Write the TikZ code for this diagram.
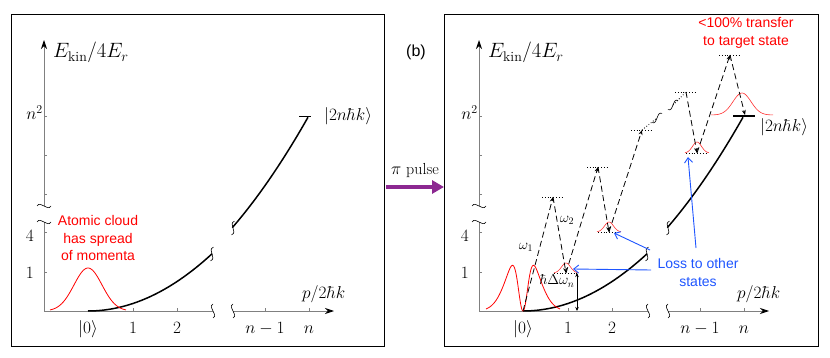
\documentclass[tikz,border=0pt]{standalone}
\usepackage{fontspec}
\newfontfamily\arial{Liberation Sans}
\usetikzlibrary{arrows.meta}
\definecolor{axisgray}{gray}{0.5}
\definecolor{lossblue}{RGB}{30,85,255}
\definecolor{pulsepurple}{RGB}{140,40,145}
\definecolor{cloudred}{RGB}{255,0,0}
\tikzset{
  frame/.style={draw=black, line width=1pt},
  axisline/.style={draw=axisgray, line width=0.9pt},
  axistip/.style={-{Stealth[color=black,length=9pt,width=6pt]}},
  tickmark/.style={draw=axisgray, line width=0.6pt},
  brk/.style={draw=black, line width=0.6pt},
  dispcurve/.style={draw=black, line width=1.5pt},
  gauss/.style={draw=cloudred, line width=0.8pt},
  smallgauss/.style={draw=cloudred!80, line width=0.6pt},
  mathlab/.style={font=\fontsize{18}{21}\selectfont, inner sep=0pt},
  axlab/.style={font=\fontsize{20}{24}\selectfont, inner sep=0pt},
  smallmath/.style={font=\fontsize{14}{17}\selectfont, inner sep=0pt},
  redtext/.style={text=cloudred, font=\arial\fontsize{14}{17.5}\selectfont, align=center, inner sep=0pt},
  bluetext/.style={text=lossblue, font=\arial\fontsize{14}{18}\selectfont, align=center, inner sep=0pt},
  transition/.style={draw=black, line width=0.8pt, dash pattern=on 6pt off 3.5pt, -{Stealth[length=5pt,width=4pt]}},
  chain/.style={draw=black, line width=0.8pt, dotted},
  vlevel/.style={draw=black, line width=0.8pt, dotted},
  lossarrow/.style={draw=lossblue, line width=0.9pt, -{Straight Barb[length=5pt,width=8pt]}},
  vbrk/.pic={\draw[brk] (0,-7) .. controls (-6,-3) and (6,3) .. (0,7);},
  hbrk/.pic={\draw[brk] (-7,0) .. controls (-3,-6) and (3,6) .. (7,0);},
}
\newcommand{\basepanel}[1]{%
  \draw[axisline] (44,311) -- (44,222);
  \draw[axisline,axistip] (44,206) -- (44,40);
  \draw[axisline] (44,311) -- (213,311);
  \draw[axisline,axistip] (233,311) -- (334,311);
  \pic at (44,222) {hbrk};
  \pic at (44,206) {hbrk};
  \pic at (213,311) {vbrk};
  \pic at (233,311) {vbrk};
  \foreach \ty in {116,155,194,232,272} \draw[tickmark] (44,\ty) -- (47,\ty);
  \foreach \tx in {133,177,265,309} \draw[tickmark] (\tx,311) -- (\tx,308);
  \node[axlab, anchor=base west] (#1ylab) at (53,58) {$E_{\mathrm{kin}}/4E_r$};
  \node[mathlab, anchor=base west] (#1xlab) at (302,298) {$p/2\hbar k$};
  \node[mathlab, anchor=base east] (#1ynsq) at (43,120) {$n^2$};
  \node[mathlab, anchor=base east] (#1yfour) at (34,241) {$4$};
  \node[mathlab, anchor=base east] (#1yone) at (34,278) {$1$};
  \node[mathlab, anchor=base] (#1xzero) at (88,333) {$|0\rangle$};
  \node[mathlab, anchor=base] (#1xone) at (133,333) {$1$};
  \node[mathlab, anchor=base] (#1xtwo) at (177,333) {$2$};
  \node[mathlab, anchor=base] (#1xnm) at (265,333) {$n-1$};
  \node[mathlab, anchor=base] (#1xn) at (309,333) {$n$};
  \draw[dispcurve] plot[domain=0:2.82, samples=40, smooth] ({88+44*\x},{311-7.2*\x*\x});
  \draw[dispcurve] plot[domain=3.28:5, samples=30, smooth] ({88+44*\x},{311-7.75*\x*\x});
  \pic[rotate=-12] at (212,254) {vbrk};
  \pic[rotate=-12] at (233,228) {vbrk};
}
\begin{document}
\begin{tikzpicture}[x=1pt,y=-1pt]
\useasboundingbox (0,0) rectangle (830,358);
% frames
\draw[frame] (11,15) rectangle (384,346);
\draw[frame] (444,15) rectangle (818,346);
% left panel
\basepanel{L}
\draw[black, line width=0.9pt] (299,116) -- (311,116);
\node[mathlab, anchor=base west, font=\fontsize{17}{20}\selectfont] (Lket) at (324,121) {$|2n\hbar k\rangle$};
\draw[gauss] plot[domain=-38:38, samples=77, smooth] ({88+\x},{311-43*exp(-\x*\x/392)});
\node[redtext] (cloud) at (98,238) {Atomic cloud\\has spread\\of momenta};
% pulse arrow
\node[font=\fontsize{16}{19}\selectfont, inner sep=0pt] (pulse) at (415,171) {$\pi$ pulse};
\coordinate (pulsestart) at (386,187);
\coordinate (pulseend) at (444,187);
\draw[draw=pulsepurple, line width=4pt, -{Triangle[length=12pt,width=13pt,color=pulsepurple]}] (pulsestart) -- (pulseend);
% right panel
\begin{scope}[xshift=435pt]
\basepanel{R}
\end{scope}
\node[font=\arial\fontsize{16}{19}\selectfont, inner sep=0pt] (blabel) at (416,52) {(b)};
\draw[black, line width=1.8pt] (733,116) -- (755,116);
\node[mathlab, anchor=base west, font=\fontsize{17}{20}\selectfont] (Rket) at (760,132) {$|2n\hbar k\rangle$};
\draw[gauss] plot[domain=-37:37, samples=149, smooth] ({523+\x},{311-68*exp(-\x*\x/392)*(1-exp(-\x*\x/50))});
% levels
\coordinate (P0) at (523,311);
\coordinate (T1) at (553,197);
\coordinate (L1) at (566,273);
\coordinate (T2) at (598,167);
\coordinate (L2) at (609,232);
\coordinate (T3) at (642,130);
\coordinate (B1) at (657,118);
\coordinate (B2) at (673,105);
\coordinate (T4) at (686,92);
\coordinate (L4) at (697,153);
\coordinate (T5) at (730,55);
\coordinate (L5) at (745,115);
\draw[vlevel] (542,197) -- (564,197);
\draw[vlevel] (554,273) -- (577,273);
\draw[vlevel] (587,167) -- (609,167);
\draw[vlevel] (598,232) -- (619,232);
\draw[vlevel] (631,130) -- (653,130);
\draw[vlevel] (675,92) -- (697,92);
\draw[vlevel] (686,153) -- (707,153);
\draw[vlevel] (719,55) -- (741,55);
\draw[smallgauss] plot[domain=-12:12, samples=25, smooth] ({566+\x},{273-10*exp(-\x*\x/40)});
\draw[smallgauss] plot[domain=-12:12, samples=25, smooth] ({609+\x},{232-10*exp(-\x*\x/40)});
\draw[smallgauss] plot[domain=-12:12, samples=25, smooth] ({697+\x},{153-11*exp(-\x*\x/40)});
\draw[smallgauss] plot[domain=-31:31, samples=63, smooth] ({742+\x},{115-22*exp(-\x*\x/162)});
\draw[transition] (P0) -- (T1);
\draw[transition] (T1) -- (L1);
\draw[transition] (L1) -- (T2);
\draw[transition] (T2) -- (L2);
\draw[transition] (L2) -- (T3);
\draw[chain] (T3) -- (B1);
\draw[chain] (B2) -- (T4);
\pic[rotate=-48] at (B1) {vbrk};
\pic[rotate=-48] at (B2) {vbrk};
\draw[transition] (T4) -- (L4);
\draw[transition] (L4) -- (T5);
\draw[transition] (T5) -- (L5);
% detuning
\coordinate (D1) at (577,273);
\coordinate (D0) at (577,311);
\draw[black, line width=0.7pt, {Stealth[length=4pt,width=3.5pt]}-{Stealth[length=4pt,width=3.5pt]}] (D1) -- (D0);
\node[smallmath] (om1) at (526,247) {$\omega_1$};
\node[smallmath] (om2) at (567,220) {$\omega_2$};
\node[smallmath] (dom) at (557,281) {$\hbar\Delta\omega_n$};
% texts
\node[redtext] (transfer) at (746,33) {<100\% transfer\\to target state};
\node[bluetext] (loss) at (698,272) {Loss to other\\states};
\coordinate (A1s) at (650,250);
\coordinate (A1e) at (614,233);
\coordinate (A2s) at (651,270);
\coordinate (A2e) at (573,269);
\coordinate (A3s) at (696,248);
\coordinate (A3e) at (688,157);
\draw[lossarrow] (A1s) -- (A1e);
\draw[lossarrow] (A2s) -- (A2e);
\draw[lossarrow] (A3s) -- (A3e);
\end{tikzpicture}
\end{document}
